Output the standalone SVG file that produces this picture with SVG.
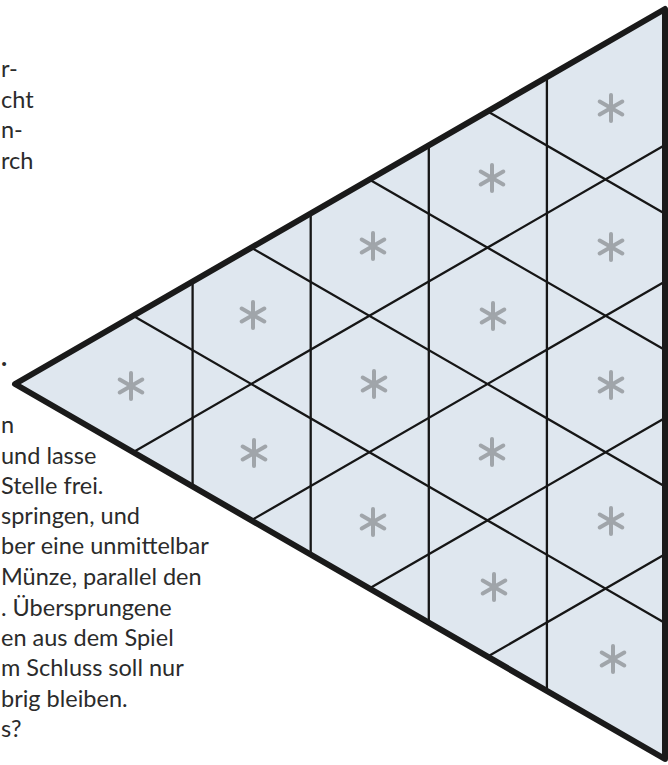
<svg xmlns="http://www.w3.org/2000/svg" width="668" height="765" viewBox="0 0 668 765">
  <defs>
    <style>
      .txt { font-family: Lato, "Open Sans", "Liberation Sans", sans-serif; font-size: 23.5px; fill: #2b2b2b; }
      .grid line { stroke: #161616; stroke-width: 2.3; stroke-linecap: round; }
      .border { fill: none; stroke: #1a1a1a; stroke-width: 6; stroke-linejoin: round; }
      .board { fill: #dfe7ef; }
    </style>
    <g id="ast">
      <g stroke="#a0a5aa" stroke-width="4" stroke-linecap="round">
        <line x1="0" y1="-13" x2="0" y2="13"/>
        <line x1="-11.3" y1="-6.5" x2="11.3" y2="6.5"/>
        <line x1="-11.3" y1="6.5" x2="11.3" y2="-6.5"/>
      </g>
    </g>
  </defs>
  <rect x="0" y="0" width="668" height="765" fill="#ffffff"/>

  <g id="board">
    <polygon class="board" points="15,384 665,9 665,759"/>
  </g>

  <g id="grid" class="grid">
    <line x1="546.9" y1="76.9" x2="546.9" y2="691.1"/>
    <line x1="428.8" y1="145.1" x2="428.8" y2="622.9"/>
    <line x1="310.7" y1="213.3" x2="310.7" y2="554.7"/>
    <line x1="192.6" y1="281.5" x2="192.6" y2="486.5"/>
    <line x1="133.1" y1="452.2" x2="665" y2="145.1"/>
    <line x1="251.2" y1="520.4" x2="665" y2="281.5"/>
    <line x1="369.3" y1="588.6" x2="665" y2="417.9"/>
    <line x1="487.4" y1="656.8" x2="665" y2="554.3"/>
    <line x1="133.1" y1="315.8" x2="665" y2="622.9"/>
    <line x1="251.2" y1="247.6" x2="665" y2="486.5"/>
    <line x1="369.3" y1="179.4" x2="665" y2="350.1"/>
    <line x1="487.4" y1="111.2" x2="665" y2="213.7"/>
  </g>

  <g id="frame">
    <polygon class="border" points="15,384 665,9 665,759"/>
  </g>

  <g id="pegs">
    <use href="#ast" x="611" y="108"/>
    <use href="#ast" x="611" y="247"/>
    <use href="#ast" x="611" y="385"/>
    <use href="#ast" x="611" y="521"/>
    <use href="#ast" x="613" y="659"/>
    <use href="#ast" x="492" y="178"/>
    <use href="#ast" x="493" y="316"/>
    <use href="#ast" x="492" y="452"/>
    <use href="#ast" x="494" y="587"/>
    <use href="#ast" x="373" y="246"/>
    <use href="#ast" x="374" y="384"/>
    <use href="#ast" x="373" y="522"/>
    <use href="#ast" x="253" y="315"/>
    <use href="#ast" x="254" y="453"/>
    <use href="#ast" x="131" y="386"/>
  </g>

  <g id="text-top">
    <text class="txt" x="1" y="77">r-</text>
    <text class="txt" x="1" y="108">cht</text>
    <text class="txt" x="1" y="138">n-</text>
    <text class="txt" x="1" y="169">rch</text>
  </g>

  <g id="text-heading">
    <text class="txt" x="1" y="366" style="font-weight:bold;font-size:26px">.</text>
  </g>

  <g id="text-bottom">
    <text class="txt" x="1" y="433">n</text>
    <text class="txt" x="1" y="464">und lasse</text>
    <text class="txt" x="1" y="494">Stelle frei.</text>
    <text class="txt" x="1" y="524">springen, und</text>
    <text class="txt" x="1" y="554">ber eine unmittelbar</text>
    <text class="txt" x="1" y="585">Münze, parallel den</text>
    <text class="txt" x="1" y="616">. Übersprungene</text>
    <text class="txt" x="1" y="646">en aus dem Spiel</text>
    <text class="txt" x="1" y="676">m Schluss soll nur</text>
    <text class="txt" x="1" y="707">brig bleiben.</text>
    <text class="txt" x="1" y="737">s?</text>
  </g>
</svg>
